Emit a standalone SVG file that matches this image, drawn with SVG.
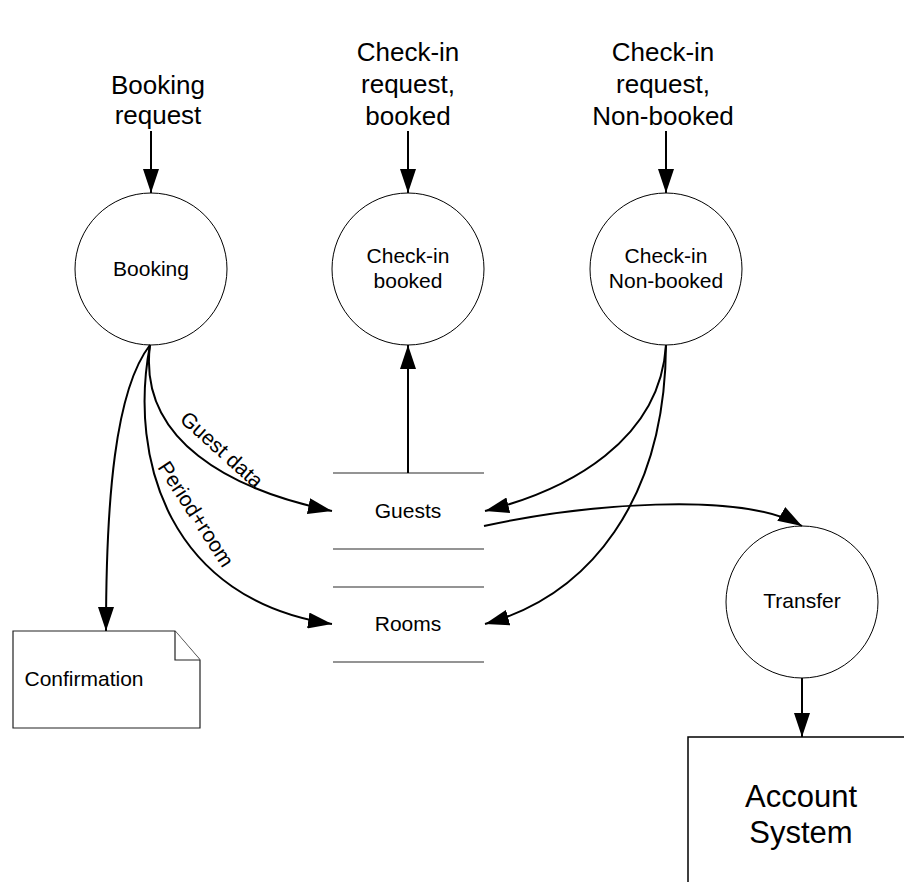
<svg xmlns="http://www.w3.org/2000/svg" width="904" height="882" viewBox="0 0 904 882">
  <style>
    text { font-family: "Liberation Sans", Arial, sans-serif; fill: #000; text-anchor: middle; }
    .big { font-size: 26px; }
    .lbl { font-size: 21px; }
    .acc { font-size: 31px; }
    .proc { fill: #fff; stroke: #000; stroke-width: 1; }
    .store { stroke: #707070; stroke-width: 1.5; fill: none; }
    .doc { fill: #fff; stroke: #222; stroke-width: 1.2; }
    .flow { fill: none; stroke: #000; stroke-width: 2; marker-end: url(#arrow); }
  </style>
  <defs>
    <marker id="arrow" viewBox="0 0 24 16" markerUnits="userSpaceOnUse" markerWidth="24" markerHeight="16" refX="24" refY="8" orient="auto">
      <path d="M0,0 L24,8 L0,16 Z" fill="#000"/>
    </marker>
  </defs>

  <rect width="904" height="882" fill="#fff"/>

  <!-- external inputs -->
  <g id="in-booking">
    <text class="big" x="158" y="94">Booking</text>
    <text class="big" x="158" y="124">request</text>
  </g>
  <g id="in-checkin-booked">
    <text class="big" x="408" y="61">Check-in</text>
    <text class="big" x="408" y="93">request,</text>
    <text class="big" x="408" y="125">booked</text>
  </g>
  <g id="in-checkin-nonbooked">
    <text class="big" x="663" y="61">Check-in</text>
    <text class="big" x="663" y="93">request,</text>
    <text class="big" x="663" y="125">Non-booked</text>
  </g>

  <!-- processes -->
  <g id="booking">
    <circle class="proc" cx="151" cy="269" r="76"/>
    <text class="lbl" x="151" y="276">Booking</text>
  </g>
  <g id="checkin-booked">
    <circle class="proc" cx="408" cy="269" r="76"/>
    <text class="lbl" x="408" y="263">Check-in</text>
    <text class="lbl" x="408" y="288">booked</text>
  </g>
  <g id="checkin-nonbooked">
    <circle class="proc" cx="666" cy="269" r="76"/>
    <text class="lbl" x="666" y="263">Check-in</text>
    <text class="lbl" x="666" y="288">Non-booked</text>
  </g>
  <g id="transfer">
    <circle class="proc" cx="802" cy="602" r="76"/>
    <text class="lbl" x="802" y="608">Transfer</text>
  </g>

  <!-- data stores -->
  <g id="guests">
    <line class="store" x1="333" y1="473" x2="484" y2="473"/>
    <line class="store" x1="333" y1="549" x2="484" y2="549"/>
    <text class="lbl" x="408" y="518">Guests</text>
  </g>
  <g id="rooms">
    <line class="store" x1="333" y1="587" x2="484" y2="587"/>
    <line class="store" x1="333" y1="662" x2="484" y2="662"/>
    <text class="lbl" x="408" y="631">Rooms</text>
  </g>

  <!-- output document -->
  <g id="confirmation">
    <path class="doc" d="M13,631 L175,631 L200,660 L200,728 L13,728 Z"/>
    <path class="doc" d="M175,631 L175,660 L200,660" fill="none"/>
    <text class="lbl" x="84" y="686">Confirmation</text>
  </g>

  <!-- external system -->
  <g id="account-system">
    <rect x="688" y="737" width="300" height="300" fill="#fff" stroke="#000" stroke-width="1.5"/>
    <text class="acc" x="801" y="807">Account</text>
    <text class="acc" x="801" y="843">System</text>
  </g>

  <!-- data flows -->
  <g id="flows">
    <path class="flow" d="M151,131 L151,193"/>
    <path class="flow" d="M408,131 L408,193"/>
    <path class="flow" d="M666,131 L666,193"/>
    <path class="flow" d="M150,345 C115,390 106,500 106,631"/>
    <path class="flow" d="M150,345 C138,440 230,490 332,511"/>
    <path class="flow" d="M150,345 C128,460 170,600 332,624"/>
    <path class="flow" d="M408,473 L408,345"/>
    <path class="flow" d="M666,345 C660,440 570,490 485,511"/>
    <path class="flow" d="M666,345 C665,500 590,595 485,624"/>
    <path class="flow" d="M484,526 C580,505 740,490 802,526"/>
    <path class="flow" d="M802,678 L802,737"/>
    <text class="lbl" transform="translate(217,455) rotate(42)">Guest data</text>
    <text class="lbl" transform="translate(190,518) rotate(57)">Period+room</text>
  </g>
</svg>
